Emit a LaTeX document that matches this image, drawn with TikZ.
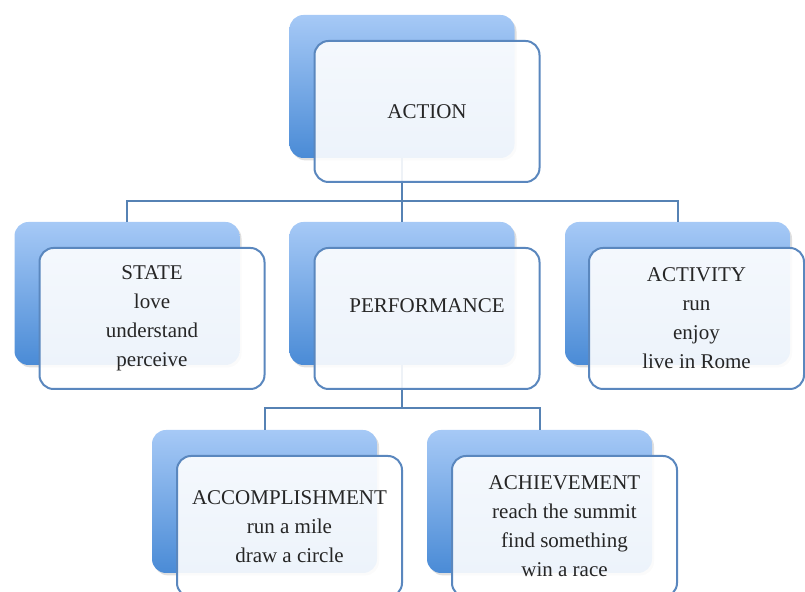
\documentclass[tikz,border=0pt]{standalone}
\usepackage{fontspec}
\setmainfont{Liberation Serif}
\usepackage{xcolor}
\usetikzlibrary{shadows}

\definecolor{boxtop}{HTML}{A6C9F6}
\definecolor{boxbot}{HTML}{4A8BD6}
\definecolor{boxline}{HTML}{5A87BE}
\definecolor{connline}{HTML}{5682B4}

\tikzset{
  backbox/.style={rectangle, rounded corners=7pt, inner sep=0pt,
    minimum width=112.5pt, minimum height=71.5pt,
    top color=boxtop, bottom color=boxbot,
    drop shadow={shadow xshift=1pt, shadow yshift=-1.2pt, opacity=0.25}},
  frontbox/.style={rectangle, rounded corners=7pt, inner sep=0pt,
    minimum width=112.5pt, minimum height=70.5pt,
    draw=boxline, line width=1pt, fill=white, fill opacity=0.9,
    text opacity=1, align=center, text=black!85,
    font=\fontsize{10.5}{14.5}\selectfont},
  boxtext/.style={align=center, text=black!85,
    font=\fontsize{10.5}{14.5}\selectfont},
  conn/.style={draw=connline, line width=1pt}
}

\begin{document}
\begin{tikzpicture}[x=0.5pt, y=-0.5pt]
% Offset of the front card
\def\off{25}

\useasboundingbox (0,0) rectangle (805,592);

% Back cards
\node[backbox] (actionb) at (402,86.5) {};
\node[backbox] (stateb) at (127,293.5) {};
\node[backbox] (perfb) at (402,293.5) {};
\node[backbox] (activityb) at (677.5,293.5) {};
\node[backbox] (accompb) at (264.5,501.5) {};
\node[backbox] (achieveb) at (539.5,501.5) {};

% Connectors
\draw[conn] (actionb.south) -- ++(0,43) -| (stateb.north);
\draw[conn] (actionb.south) -- (perfb.north);
\draw[conn] (actionb.south) -- ++(0,43) -| (activityb.north);
\draw[conn] (perfb.south) -- ++(0,43) -| (accompb.north);
\draw[conn] (perfb.south) -- ++(0,43) -| (achieveb.north);

% Front cards
\node[frontbox] (action) at ([shift={(\off,\off)}]actionb.center) {ACTION};
\node[frontbox] (state) at ([shift={(\off,\off)}]stateb.center)
  {STATE\\love\\understand\\perceive};
\node[frontbox] (perf) at ([shift={(\off,\off)}]perfb.center) {};
\node[boxtext] (perftext) at ([yshift=6.5pt]perf.center) {PERFORMANCE};
\node[frontbox, minimum width=107.5pt] (activity)
  at ([shift={(\off-6,\off)}]activityb.center)
  {ACTIVITY\\run\\enjoy\\live in Rome};
\node[frontbox] (accomp) at ([shift={(\off,\off)}]accompb.center)
  {ACCOMPLISHMENT\\run a mile\\draw a circle};
\node[frontbox] (achieve) at ([shift={(\off,\off)}]achieveb.center)
  {ACHIEVEMENT\\reach the summit\\find something\\win a race};

\end{tikzpicture}
\end{document}
